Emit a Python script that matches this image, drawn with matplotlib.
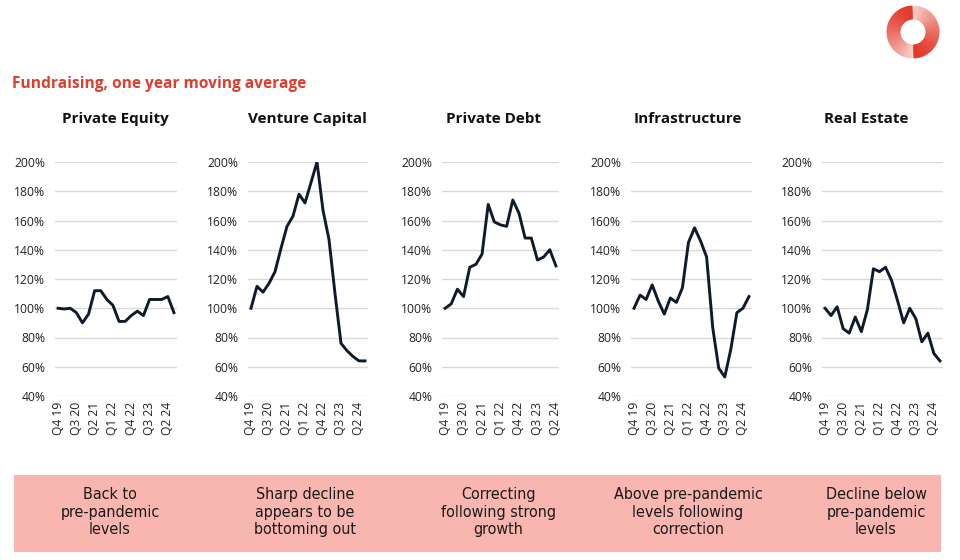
import matplotlib
matplotlib.use("Agg")
import matplotlib.pyplot as plt
import numpy as np
from matplotlib.patches import Wedge, Rectangle
from matplotlib.colors import to_rgb

# === Data (index 100% = Q4 19) ===
quarters = ["Q4 19", "Q1 20", "Q2 20", "Q3 20", "Q4 20", "Q1 21", "Q2 21",
            "Q3 21", "Q4 21", "Q1 22", "Q2 22", "Q3 22", "Q4 22", "Q1 23",
            "Q2 23", "Q3 23", "Q4 23", "Q1 24", "Q2 24", "Q3 24"]

private_equity = [100, 99.5, 100, 97, 90, 96, 112, 112, 106, 102,
                  91, 91, 95, 98, 95, 106, 106, 106, 108, 97]
venture_capital = [100, 115, 111, 117, 125, 141, 156, 163, 178, 172,
                   186, 200, 167, 147, 110, 76, 71, 67, 64, 64]
private_debt = [100, 103, 113, 108, 128, 130, 137, 171, 159, 157,
                156, 174, 165, 148, 148, 133, 135, 140, 129]
infrastructure = [100, 109, 106, 116, 105, 96, 107, 104, 114, 145,
                  155, 146, 135, 87, 59, 53, 72, 97, 100, 108]
real_estate = [100, 95, 101, 86, 83, 94, 84, 99, 127, 125,
               128, 119, 105, 90, 100, 93, 77, 83, 69, 64]

titles = ["Private Equity", "Venture Capital", "Private Debt",
          "Infrastructure", "Real Estate"]
series = [private_equity, venture_capital, private_debt,
          infrastructure, real_estate]
notes = ["Back to\npre-pandemic\nlevels",
         "Sharp decline\nappears to be\nbottoming out",
         "Correcting\nfollowing strong\ngrowth",
         "Above pre-pandemic\nlevels following\ncorrection",
         "Decline below\npre-pandemic\nlevels"]

plt.rcParams["font.family"] = ["Open Sans", "DejaVu Sans"]

W, H = 960, 560
fig = plt.figure(figsize=(9.6, 5.6), dpi=100)

# panel grid extents in pixels (left, right)
panel_x = [(55, 177), (248, 368), (442, 559), (631, 752), (822, 943)]
title_x = [115, 307, 493, 688, 866]
y_top, y_bot = 162, 396
line_col = "#0f1a2b"

for i, (name, vals) in enumerate(zip(titles, series)):
    x0, x1 = panel_x[i]
    ax = fig.add_axes([x0 / W, 1 - y_bot / H, (x1 - x0) / W, (y_bot - y_top) / H])
    ax.plot(range(len(vals)), vals, color=line_col, lw=2.1, solid_joinstyle="round")
    ax.set_ylim(40, 200)
    ax.set_xlim(-0.5, len(vals) - 0.5)
    ax.set_yticks(range(40, 201, 20))
    ax.set_yticklabels([f"{v}%" for v in range(40, 201, 20)], fontsize=8.7,
                       color="#222222")
    ticks = list(range(0, len(vals), 3))
    ax.set_xticks(ticks)
    ax.set_xticklabels([quarters[t] for t in ticks], rotation=90, fontsize=8.7,
                       color="#222222")
    ax.tick_params(length=0, pad=7)
    ax.tick_params(axis="x", pad=4)
    ax.grid(axis="y", color="#d9d9d9", lw=1)
    ax.set_axisbelow(True)
    for s in ax.spines.values():
        s.set_visible(False)
    fig.text(title_x[i] / W, 1 - 119 / H, name, ha="center", va="center",
             fontsize=11, fontweight="bold", color="#111111")

# main title
fig.text(12 / W, 1 - 84 / H, "Fundraising, one year moving average", ha="left",
         va="center", fontsize=11.2, fontweight="bold", color="#d9402f")

# bottom band with comments
fig.patches.append(Rectangle((14 / W, 1 - 552 / H), 927 / W, 77 / H,
                             transform=fig.transFigure, facecolor="#f9b5af",
                             edgecolor="none", zorder=0))
note_x = [110, 305, 498, 688, 876]
for nx, note in zip(note_x, notes):
    fig.text(nx / W, 1 - 512 / H, note, ha="center", va="center", fontsize=11.5,
             color="#1a1a1a", linespacing=1.2, family="DejaVu Sans",
             fontstretch="condensed")

# logo ring: two halves fading from deep red to pale pink
deep, pale = np.array(to_rgb("#e4392b")), np.array(to_rgb("#f8d2cc"))
steps = 30
for start in (92, 272):
    for k in range(steps):
        a0 = start + k * 176 / steps
        c = deep + (pale - deep) * (k / steps) ** 1.5
        fig.patches.append(Wedge((913, H - 32), 26, a0, a0 + 176 / steps + 0.3,
                                 width=13, transform=None, facecolor=c,
                                 edgecolor=c, lw=0.6))

fig.savefig("out.png", dpi=100)
